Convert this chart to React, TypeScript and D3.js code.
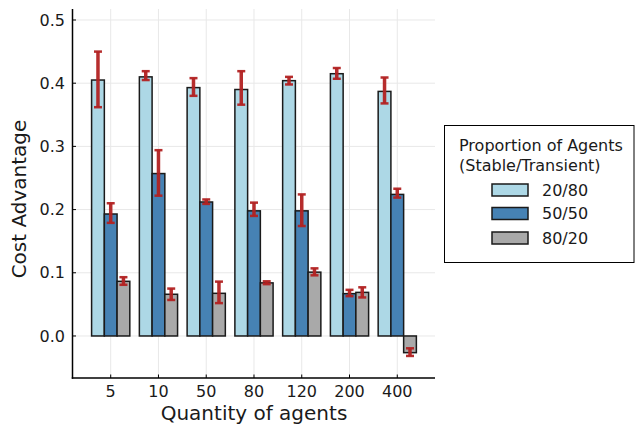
import React from "react";
import * as d3 from "d3";

const categories = ["5", "10", "50", "80", "120", "200", "400"];
const seriesNames = ["20/80", "50/50", "80/20"];
const seriesColors = ["#add8e6", "#4682b4", "#a9a9a9"];

const values2080 = [0.405, 0.41, 0.393, 0.39, 0.404, 0.415, 0.387];
const low2080 = [0.362, 0.405, 0.38, 0.366, 0.398, 0.407, 0.368];
const high2080 = [0.45, 0.419, 0.408, 0.419, 0.41, 0.424, 0.409];

const values5050 = [0.193, 0.257, 0.212, 0.198, 0.198, 0.067, 0.224];
const low5050 = [0.179, 0.222, 0.209, 0.19, 0.174, 0.063, 0.219];
const high5050 = [0.21, 0.294, 0.216, 0.211, 0.224, 0.073, 0.233];

const values8020 = [0.0865, 0.066, 0.0675, 0.084, 0.101, 0.069, -0.0264];
const low8020 = [0.081, 0.057, 0.052, 0.082, 0.096, 0.061, -0.0316];
const high8020 = [0.093, 0.075, 0.086, 0.0865, 0.107, 0.077, -0.0195];

const yTicks = [0.0, 0.1, 0.2, 0.3, 0.4, 0.5];

const seriesValues = [values2080, values5050, values8020];
const seriesLow = [low2080, low5050, low8020];
const seriesHigh = [high2080, high5050, high8020];

const FONT = "DejaVu Sans, sans-serif";

export default function App() {
  const left = 72.5;
  const right = 435;
  const top = 9;
  const bottom = 378;

  const x = d3.scaleLinear().domain([-0.8, 6.79]).range([left, right]);
  const y = d3.scaleLinear().domain([-0.0665, 0.5174]).range([bottom, top]);

  const groupW = 0.8;
  const barW = groupW / 3;

  return (
    <svg
      width={636}
      height={426}
      style={{ position: "absolute", left: 0, top: 0, background: "#fff" }}
      fontFamily={FONT}
    >
      {/* grid */}
      <g stroke="#e8e8e8" strokeWidth={1}>
        {categories.map((c, i) => (
          <line key={"gx" + c} x1={x(i)} x2={x(i)} y1={top} y2={bottom} />
        ))}
        {yTicks.map((t) => (
          <line key={"gy" + t} x1={left} x2={right} y1={y(t)} y2={y(t)} />
        ))}
      </g>

      {/* bars */}
      {seriesValues.map((vals, s) => (
        <g key={"s" + s}>
          {vals.map((v, i) => {
            const x0 = x(i - groupW / 2 + s * barW);
            const x1 = x(i - groupW / 2 + (s + 1) * barW);
            const ya = y(Math.max(0, v));
            const yb = y(Math.min(0, v));
            return (
              <rect
                key={i}
                x={x0}
                y={ya}
                width={x1 - x0}
                height={yb - ya}
                fill={seriesColors[s]}
                stroke="#1a1a1a"
                strokeWidth={1.5}
              />
            );
          })}
        </g>
      ))}

      {/* error bars */}
      {seriesValues.map((vals, s) => (
        <g key={"e" + s} stroke="#b22222" strokeOpacity={0.95}>
          {vals.map((v, i) => {
            const cx = x(i - groupW / 2 + (s + 0.5) * barW);
            const lo = y(seriesLow[s][i]);
            const hi = y(seriesHigh[s][i]);
            return (
              <g key={i}>
                <line x1={cx} x2={cx} y1={lo} y2={hi} strokeWidth={3.5} />
                <line x1={cx - 4} x2={cx + 4} y1={lo} y2={lo} strokeWidth={2.5} />
                <line x1={cx - 4} x2={cx + 4} y1={hi} y2={hi} strokeWidth={2.5} />
              </g>
            );
          })}
        </g>
      ))}

      {/* axes */}
      <line x1={left} x2={left} y1={top} y2={bottom + 0.75} stroke="#000" strokeWidth={1.5} />
      <line x1={left - 0.75} x2={right} y1={bottom} y2={bottom} stroke="#000" strokeWidth={1.5} />
      {yTicks.map((t) => (
        <g key={"yt" + t}>
          <line x1={left} x2={left + 3.5} y1={y(t)} y2={y(t)} stroke="#000" strokeWidth={1} />
          <text x={65} y={y(t)} dy="0.35em" textAnchor="end" fontSize={16} fill="#1a1a1a">
            {d3.format(".1f")(t)}
          </text>
        </g>
      ))}
      {categories.map((c, i) => (
        <g key={"xt" + c}>
          <line x1={x(i)} x2={x(i)} y1={bottom} y2={bottom - 3.5} stroke="#000" strokeWidth={1} />
          <text x={x(i)} y={397} textAnchor="middle" fontSize={16} fill="#1a1a1a">
            {c}
          </text>
        </g>
      ))}

      <text x={254} y={420} textAnchor="middle" fontSize={20} fill="#1a1a1a">
        Quantity of agents
      </text>
      <text
        transform={`translate(26, 199) rotate(-90)`}
        textAnchor="middle"
        fontSize={20}
        fill="#1a1a1a"
      >
        Cost Advantage
      </text>

      {/* legend */}
      <rect x={444.5} y={125.5} width={189.5} height={137} fill="#fff" stroke="#000" strokeWidth={1} />
      <text x={459} y={151} fontSize={16} fill="#1a1a1a">Proportion of Agents</text>
      <text x={459} y={171} fontSize={16} fill="#1a1a1a">(Stable/Transient)</text>
      {seriesNames.map((n, s) => {
        const cy = [190, 213.5, 238][s];
        return (
          <g key={"lg" + n}>
            <rect x={492} y={cy - 6} width={36} height={12} fill={seriesColors[s]} stroke="#1a1a1a" strokeWidth={1.5} />
            <text x={542} y={cy} dy="0.36em" fontSize={16} fill="#1a1a1a">{n}</text>
          </g>
        );
      })}
    </svg>
  );
}
